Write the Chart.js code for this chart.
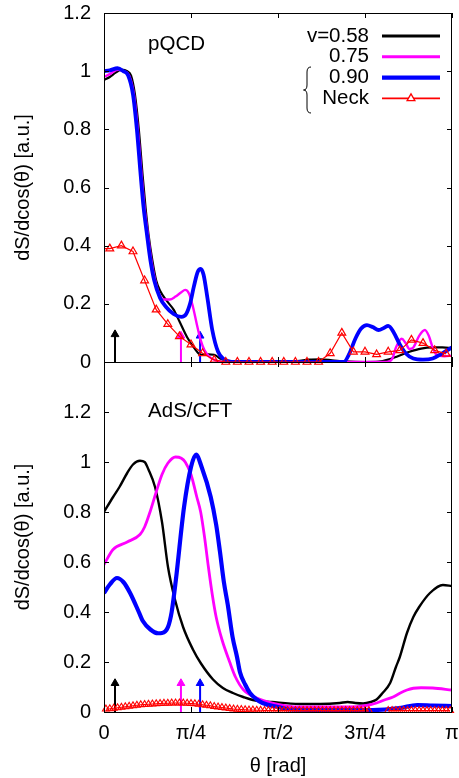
<!doctype html>
<html>

<head>
	<meta charset="utf-8">
	<title>dS/dcos(θ): pQCD vs AdS/CFT</title>
	<style>
		body {
			margin: 0;
			background: #fff;
		}

		#wrap {
			position: relative;
			width: 459px;
			height: 778px;
		}

		canvas {
			position: absolute;
			left: 0;
		}

		#top {
			top: 0;
		}

		#bottom {
			top: 350px;
		}
	</style>
	<script src="https://cdn.jsdelivr.net/npm/chart.js@4.4.0/dist/chart.umd.min.js"></script>
</head>

<body>
	<div id="wrap">
		<canvas id="top" width="459" height="375"></canvas>
		<canvas id="bottom" width="459" height="428"></canvas>
	</div>
	<script>
		"use strict";
		// theta is kept in degrees (0..180 is 0..pi), labelled as fractions of pi
		const tickLabels = ["0", "π/4", "π/2", "3π/4", "π"];
		const seriesLabels = ["v=0.58", "0.75", "0.90", "Neck"];
		const yTitle = "dS/dcos(θ) [a.u.]";
		const xTitle = "θ [rad]";

		// ---- pQCD panel ----
		const topBlackTheta = [0, 3, 6, 9, 12, 14, 16, 18, 20, 21.5, 23, 25, 27, 29, 32.5, 36, 39, 43, 47, 50, 54, 57, 60, 64, 70, 85, 100, 106, 112, 118, 125, 135, 142, 147, 152, 158, 164, 170, 175, 180];
		const topBlackValue = [0.97, 0.98, 0.995, 1.005, 1.0, 0.985, 0.92, 0.8, 0.64, 0.53, 0.44, 0.35, 0.28, 0.245, 0.21, 0.18, 0.14, 0.085, 0.045, 0.025, 0.026, 0.025, 0.012, 0.004, 0.001, 0, 0.003, 0.008, 0.009, 0.006, 0.002, 0, 0.001, 0.008, 0.02, 0.035, 0.046, 0.05, 0.05, 0.048];

		const topMagentaTheta = [0, 3, 7, 10, 13, 15.5, 17.5, 19.5, 21, 22.5, 24.5, 26.5, 28.5, 31, 34, 37, 40, 42, 44, 46, 48, 50, 52, 55, 58, 62, 100, 146, 149, 151, 154, 156, 158, 160, 163, 166, 168, 170, 172, 176, 180];
		const topMagentaValue = [0.98, 0.99, 1.005, 1.0, 0.985, 0.92, 0.8, 0.64, 0.53, 0.45, 0.35, 0.28, 0.235, 0.215, 0.215, 0.225, 0.24, 0.248, 0.235, 0.19, 0.13, 0.075, 0.04, 0.015, 0.005, 0, 0, 0, 0.01, 0.05, 0.08, 0.065, 0.045, 0.05, 0.09, 0.11, 0.09, 0.05, 0.025, 0.02, 0.022];

		const topBlueTheta = [0, 3, 7, 10, 12.5, 15, 17, 19, 20.5, 22, 24, 26, 29, 32, 36, 40, 42.5, 44.5, 46.5, 48.5, 50, 51.5, 53.5, 56, 59, 62, 66, 100, 124, 127, 130, 133, 136, 139, 142, 145, 147, 150, 153, 156, 160, 165, 170, 175, 180];
		const topBlueValue = [1.0, 1.003, 1.01, 1.0, 0.985, 0.92, 0.8, 0.64, 0.53, 0.45, 0.35, 0.28, 0.22, 0.19, 0.165, 0.155, 0.165, 0.2, 0.26, 0.31, 0.32, 0.3, 0.22, 0.11, 0.035, 0.01, 0, 0, 0, 0.03, 0.08, 0.115, 0.127, 0.12, 0.11, 0.118, 0.124, 0.1, 0.06, 0.03, 0.012, 0.008, 0.012, 0.03, 0.05];

		const topNeckTheta = [0, 3, 9, 15, 21, 27, 33, 39, 45, 51, 57, 63, 69, 75, 81, 87, 93, 99, 105, 111, 117, 123, 129, 135, 141, 147, 153, 159, 165, 171, 177];
		const topNeckValue = [0.39, 0.39, 0.40, 0.38, 0.28, 0.18, 0.13, 0.088, 0.06, 0.03, 0.007, 0, 0, 0, 0, 0, 0, 0, 0, 0, 0.03, 0.10, 0.035, 0.035, 0.026, 0.035, 0.04, 0.076, 0.065, 0.04, 0.028];

		// ---- AdS/CFT panel ----
		const botBlackTheta = [0, 4.7, 8, 12, 15, 18.6, 21, 23, 26.4, 30, 33.1, 36.7, 40.9, 46, 50, 56.4, 61.5, 66.7, 72, 77, 87, 101, 112, 122, 126, 130, 134, 138, 141, 144, 148, 151, 153, 156.7, 160, 163, 168.6, 175.3, 180];
		const botBlackValue = [0.8, 0.86, 0.9, 0.956, 0.99, 1.005, 1.0, 0.97, 0.9, 0.76, 0.58, 0.45, 0.34, 0.25, 0.196, 0.13, 0.096, 0.076, 0.06, 0.048, 0.04, 0.032, 0.032, 0.036, 0.04, 0.036, 0.034, 0.04, 0.05, 0.075, 0.116, 0.18, 0.22, 0.316, 0.38, 0.42, 0.476, 0.508, 0.504];

		const botMagentaTheta = [0, 4.7, 12, 18.6, 21, 23.8, 27, 30, 33, 37, 40, 42, 45, 48, 50, 52, 54, 56, 58, 61, 65, 68, 72, 79, 87, 101, 127, 135, 141, 145, 149.5, 153, 156.7, 160, 164, 170, 180];
		const botMagentaValue = [0.59, 0.65, 0.68, 0.71, 0.74, 0.8, 0.88, 0.95, 0.995, 1.02, 1.015, 1.0, 0.95, 0.86, 0.8, 0.7, 0.58, 0.47, 0.38, 0.29, 0.2, 0.14, 0.09, 0.056, 0.036, 0.02, 0.02, 0.025, 0.036, 0.048, 0.06, 0.075, 0.088, 0.095, 0.097, 0.096, 0.088];

		const botBlueTheta = [0, 3, 6.7, 10, 13.5, 18, 20, 24, 28, 30, 33.1, 35, 37.2, 41.4, 45, 47.6, 50.5, 55.2, 58, 60, 62, 64, 66.5, 68.8, 70.3, 73, 75.5, 79, 82, 90, 96, 120, 139, 153, 162, 170, 180];
		const botBlueValue = [0.476, 0.51, 0.536, 0.52, 0.476, 0.4, 0.365, 0.33, 0.315, 0.316, 0.34, 0.4, 0.53, 0.82, 0.98, 1.03, 0.98, 0.86, 0.75, 0.64, 0.52, 0.43, 0.3, 0.22, 0.16, 0.11, 0.076, 0.05, 0.036, 0.02, 0.01, 0.008, 0.008, 0.016, 0.028, 0.026, 0.024];

		const botNeckTheta = [1, 3, 5, 7, 9, 11, 13, 15, 17, 19, 21, 23, 25, 27, 29, 31, 33, 35, 37, 39, 41, 43, 45, 47, 49, 51, 53, 55, 57, 59, 61, 63, 65, 67, 69, 71, 73, 75, 77, 79, 81, 83, 85, 87, 89, 91, 93, 95, 97, 99, 101, 103, 105, 107, 109, 111, 113, 115, 117, 119, 121, 123, 125, 127, 129, 131, 133, 135, 137, 139, 141, 143, 145, 147, 149, 151, 153, 155, 157, 159, 161, 163, 165, 167, 169, 171, 173, 175, 177, 179];
		const botNeckValue = [0.012, 0.013, 0.015, 0.017, 0.019, 0.021, 0.023, 0.025, 0.027, 0.029,
			0.03, 0.031, 0.032, 0.033, 0.034, 0.035, 0.035, 0.036, 0.036, 0.036,
			0.036, 0.035, 0.034, 0.033, 0.031, 0.029, 0.027, 0.025, 0.022, 0.02,
			0.018, 0.016, 0.014, 0.012, 0.011, 0.01, 0.009, 0.008, 0.008, 0.007,
			0.007, 0.006, 0.006, 0.006, 0.006, 0.006, 0.006, 0.006, 0.006, 0.006,
			0.006, 0.006, 0.006, 0.006, 0.006, 0.006, 0.006, 0.006, 0.006, 0.006,
			0.006, 0.006, 0.006, 0.006, 0.006, 0.006, 0.006, 0.006, 0.006, null,
			null, null, null, 0.006, 0.006, 0.006, 0.006, 0.006, 0.006, 0.006,
			0.006, 0.006, 0.006, 0.006, 0.006, 0.006, 0.006, 0.006, 0.006, 0.006];

		// arrows marking the jet directions
		const arrowTheta = [5.7, 39.8, 49.7];
		const arrowTop = [0.095, 0.09, 0.09];
		const arrowBottom = [0.115, 0.115, 0.115];

		const BLACK = "#000000", MAGENTA = "#ff00ff", BLUE = "#0000ff", RED = "#ff0000";
		const arrowColors = [BLACK, MAGENTA, BLUE];
		const FONT = "'Liberation Sans', Arial, Helvetica, sans-serif";

		Chart.defaults.font.family = FONT;
		Chart.defaults.color = "#000";

		const pts = (theta, value) => theta.map((t, i) => ({ x: t, y: value[i] }));

		function curve(label, theta, value, color, width, order) {
			return {
				label: label,
				data: pts(theta, value),
				borderColor: color,
				backgroundColor: color,
				borderWidth: width,
				pointRadius: 0,
				cubicInterpolationMode: "monotone",
				order: order
			};
		}

		function neck(theta, value, radius, width) {
			return {
				label: "Neck",
				data: pts(theta, value),
				borderColor: RED,
				backgroundColor: "rgba(0,0,0,0)",
				borderWidth: width,
				pointStyle: "triangle",
				pointRadius: ctx => (ctx.raw && ctx.raw.x === 0 ? 0 : radius),
				pointBorderWidth: width,
				pointBorderColor: RED,
				pointBackgroundColor: "rgba(0,0,0,0)",
				tension: 0,
				clip: false,
				order: 0
			};
		}

		function arrows(heights) {
			return arrowTheta.map((t, i) => ({
				label: "arrow",
				data: [{ x: t, y: 0 }, { x: t, y: heights[i] }],
				borderColor: arrowColors[i],
				backgroundColor: arrowColors[i],
				borderWidth: 2,
				pointStyle: "triangle",
				pointRadius: [0, 4.5],
				pointBorderWidth: 1,
				clip: false,
				order: 5
			}));
		}

		const yLabel = v => (Math.abs(v - 1.4) < 1e-6 ? "" : String(Math.round(v * 10) / 10));

		// frame and inward tick marks on all four sides, like gnuplot
		const frameTicks = {
			id: "frameTicks",
			afterDatasetsDraw(chart) {
				const { ctx, chartArea: a, scales: { x, y } } = chart;
				ctx.save();
				ctx.strokeStyle = "#000";
				ctx.lineWidth = 1;
				ctx.beginPath();
				x.ticks.forEach(t => {
					const px = Math.round(x.getPixelForValue(t.value)) + 0.5;
					ctx.moveTo(px, a.top); ctx.lineTo(px, a.top + 5);
					ctx.moveTo(px, a.bottom); ctx.lineTo(px, a.bottom - 5);
				});
				y.ticks.forEach(t => {
					const py = Math.round(y.getPixelForValue(t.value)) + 0.5;
					ctx.moveTo(a.left, py); ctx.lineTo(a.left + 5, py);
					ctx.moveTo(a.right, py); ctx.lineTo(a.right - 5, py);
				});
				ctx.stroke();
				ctx.strokeRect(a.left + 0.5, a.top + 0.5, a.right - a.left - 1, a.bottom - a.top);
				ctx.restore();
			}
		};

		const panelText = {
			id: "panelText",
			afterDraw(chart, args, opts) {
				const { ctx, scales: { x, y } } = chart;
				ctx.save();
				ctx.font = "20.5px " + FONT;
				ctx.fillStyle = "#000";
				ctx.textAlign = "left";
				ctx.textBaseline = "alphabetic";
				ctx.fillText(opts.text, x.getPixelForValue(opts.x), y.getPixelForValue(opts.y));
				ctx.restore();
			}
		};

		// gnuplot-style key: right aligned text, line sample, brace on the last two rows
		const keyBox = {
			id: "keyBox",
			afterDraw(chart) {
				const { ctx, chartArea: a } = chart;
				const textX = a.right - 83, x0 = a.right - 70, x1 = a.right - 12;
				ctx.save();
				ctx.font = "20.5px " + FONT;
				ctx.textAlign = "right";
				ctx.textBaseline = "middle";
				seriesLabels.forEach((lab, i) => {
					const ds = chart.data.datasets.find(d => d.label === lab);
					const yy = a.top + 23 + 20.8 * i;
					ctx.fillStyle = "#000";
					ctx.fillText(lab, textX, yy);
					ctx.strokeStyle = ds.borderColor;
					ctx.lineWidth = ds.borderWidth + 0.6;
					ctx.beginPath();
					ctx.moveTo(x0, yy); ctx.lineTo(x1, yy);
					ctx.stroke();
					if (lab === "Neck") {
						const cx = (x0 + x1) / 2, r = 4.5;
						ctx.lineWidth = 1.3;
						ctx.fillStyle = "#fff";
						ctx.beginPath();
						ctx.moveTo(cx, yy - r);
						ctx.lineTo(cx + r * 0.866, yy + r * 0.5);
						ctx.lineTo(cx - r * 0.866, yy + r * 0.5);
						ctx.closePath();
						ctx.fill();
						ctx.stroke();
					}
				});
				// brace
				const bx = textX - 62, top = a.top + 54, bot = a.top + 100, mid = (top + bot) / 2;
				ctx.strokeStyle = "#000";
				ctx.lineWidth = 1;
				ctx.beginPath();
				ctx.moveTo(bx + 4, top);
				ctx.quadraticCurveTo(bx, top, bx, top + 5);
				ctx.lineTo(bx, mid - 5);
				ctx.quadraticCurveTo(bx, mid, bx - 3.5, mid);
				ctx.quadraticCurveTo(bx, mid, bx, mid + 5);
				ctx.lineTo(bx, bot - 5);
				ctx.quadraticCurveTo(bx, bot, bx + 4, bot);
				ctx.stroke();
				ctx.restore();
			}
		};

		function yScale(max) {
			return {
				min: 0,
				max: max,
				grid: { display: false, drawTicks: false },
				border: { display: false },
				ticks: { stepSize: 0.2, padding: 13, font: { size: 20 }, callback: yLabel },
				title: { display: true, text: yTitle, font: { size: 20 }, padding: { top: 11, bottom: 0 } },
				afterFit: s => {
					s.width = 104;
					s.paddingTop = 0;
					s.paddingBottom = 0;
				}
			};
		}

		new Chart(document.getElementById("top"), {
			type: "line",
			data: {
				datasets: [
					neck(topNeckTheta, topNeckValue, 4.5, 1.2),
					curve(seriesLabels[2], topBlueTheta, topBlueValue, BLUE, 3.8, 1),
					curve(seriesLabels[1], topMagentaTheta, topMagentaValue, MAGENTA, 2.4, 2),
					curve(seriesLabels[0], topBlackTheta, topBlackValue, BLACK, 2.2, 3)
				].concat(arrows(arrowTop))
			},
			options: {
				responsive: false,
				animation: false,
				events: [],
				layout: { padding: { top: 13, right: 7, bottom: 13, left: 0 } },
				plugins: {
					legend: { display: false },
					tooltip: { enabled: false },
					panelText: { text: "pQCD", x: 22.8, y: 1.073 }
				},
				scales: {
					x: {
						type: "linear",
						min: 0,
						max: 180,
						grid: { display: false, drawTicks: false },
						border: { display: false },
						ticks: { display: false, stepSize: 45 },
						afterFit: s => {
							s.height = 0;
							s.paddingLeft = 0;
							s.paddingRight = 0;
						}
					},
					y: yScale(1.2)
				}
			},
			plugins: [frameTicks, panelText, keyBox]
		});

		new Chart(document.getElementById("bottom"), {
			type: "line",
			data: {
				datasets: [
					neck(botNeckTheta, botNeckValue, 4, 1.1),
					curve(seriesLabels[2], botBlueTheta, botBlueValue, BLUE, 4.2, 1),
					curve(seriesLabels[1], botMagentaTheta, botMagentaValue, MAGENTA, 2.8, 2),
					curve(seriesLabels[0], botBlackTheta, botBlackValue, BLACK, 2.4, 3)
				].concat(arrows(arrowBottom))
			},
			options: {
				responsive: false,
				animation: false,
				events: [],
				layout: { padding: { top: 12, right: 7, bottom: 0, left: 0 } },
				plugins: {
					legend: { display: false },
					tooltip: { enabled: false },
					panelText: { text: "AdS/CFT", x: 22.8, y: 1.18 }
				},
				scales: {
					x: {
						type: "linear",
						min: 0,
						max: 180,
						grid: { display: false, drawTicks: false },
						border: { display: false },
						ticks: {
							stepSize: 45,
							padding: 9,
							font: { size: 20 },
							maxRotation: 0,
							callback: v => tickLabels[Math.round(v / 45)]
						},
						title: { display: true, text: xTitle, font: { size: 20 }, padding: { top: 0, bottom: 0 } },
						afterFit: s => {
							s.height = 66;
							s.paddingLeft = 0;
							s.paddingRight = 0;
						}
					},
					y: yScale(1.4)
				}
			},
			plugins: [frameTicks, panelText]
		});
	</script>
</body>

</html>
